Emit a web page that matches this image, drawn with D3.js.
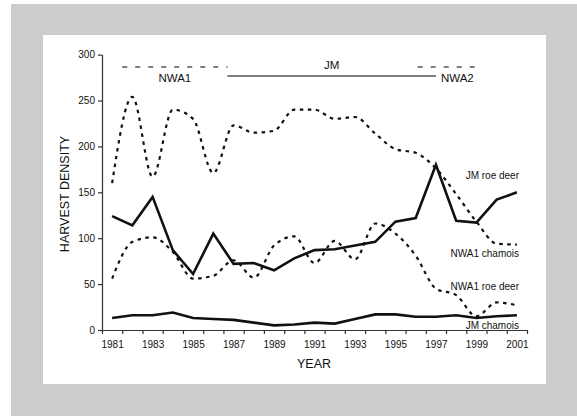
<!DOCTYPE html>
<html lang="en">
<head>
<meta charset="utf-8">
<title>Harvest density 1981-2001</title>
<style>
  body { margin: 0; background: #ffffff; }
  svg { display: block; font-family: "Liberation Sans", Arial, sans-serif; }
  .tick text { fill: #111; }
  .label { fill: #111; font-size: 10px; }
  .axisTitle { fill: #111; font-size: 12.5px; }
  .period { fill: #111; font-size: 11.5px; }
</style>
</head>
<body>
<div id="chart"></div>
<script src="https://cdn.jsdelivr.net/npm/d3@7"></script>
<script>

var years = d3.range(1981, 2002);
var yTicks = [0, 50, 100, 150, 200, 250, 300];
var yearLabels = [1981, 1983, 1985, 1987, 1989, 1991, 1993, 1995, 1997, 1999, 2001];

// NWA1 chamois (upper dashed)
var nwa1Chamois = [160, 254, 167, 240, 230, 171, 223, 215, 217, 240, 240, 230, 232, 214, 197, 193, 176, 148, 118, 94, 93];
// JM roe deer (upper solid)
var jmRoeDeer = [124, 114, 145, 87, 61, 105, 72, 73, 65, 78, 87, 88, 92, 96, 118, 122, 180, 119, 117, 142, 150];
// NWA1 roe deer (lower dashed)
var nwa1RoeDeer = [56, 96, 101, 85, 56, 59, 76, 57, 92, 102, 73, 97, 77, 116, 105, 81, 45, 38, 15, 30, 27];
// JM chamois (lower solid)
var jmChamois = [13, 16, 16, 19, 13, 12, 11, 8, 5, 6, 8, 7, 12, 17, 17, 14.5, 14.5, 16, 13, 15, 16];

// management periods along the top
var periodNames = ["NWA1", "JM", "NWA2"];
var periodStart = [1981.5, 1986.7, 1996.1];
var periodEnd = [1986.7, 1997.0, 1999.1];

var W = 577, H = 416;

var svg = d3.select("#chart").append("svg")
    .attr("width", W)
    .attr("height", H);

svg.append("rect").attr("x", 11).attr("y", 4).attr("width", W - 11).attr("height", H - 4).attr("fill", "#cccccc");
svg.append("rect").attr("x", 43).attr("y", 35).attr("width", 503).attr("height", 349).attr("fill", "#ffffff");

var x = d3.scaleLinear().domain([1980.5, 2001.5]).range([102, 527]);
var y = d3.scaleLinear().domain([0, 300]).range([330, 54.6]);

// x axis: ticks between years, labels every other year
svg.append("g")
    .attr("transform", "translate(0,330)")
    .call(d3.axisBottom(x)
        .tickValues(d3.range(1980.5, 2002, 1))
        .tickSize(4)
        .tickSizeOuter(0)
        .tickFormat(""))
    .call(function(g) {
        g.selectAll("line, path").attr("stroke", "#333").attr("stroke-width", 1.2);
    });

svg.append("g")
    .attr("transform", "translate(0,330)")
    .call(d3.axisBottom(x).tickValues(yearLabels).tickSize(0).tickPadding(11).tickFormat(d3.format("d")))
    .call(function(g) {
        g.select(".domain").remove();
        g.selectAll("text").style("font-size", "10px").style("font-family", "Liberation Sans, Arial, sans-serif");
    });

// y axis
svg.append("g")
    .attr("transform", "translate(102,0)")
    .call(d3.axisLeft(y).tickValues(yTicks).tickSize(4).tickSizeOuter(0).tickPadding(3))
    .call(function(g) {
        g.selectAll("line, path").attr("stroke", "#333").attr("stroke-width", 1.2);
        g.selectAll("text").style("font-size", "10px").style("font-family", "Liberation Sans, Arial, sans-serif");
    });

svg.append("text")
    .attr("class", "axisTitle")
    .attr("text-anchor", "middle")
    .attr("transform", "translate(69,194) rotate(-90)")
    .text("HARVEST DENSITY");

svg.append("text")
    .attr("class", "axisTitle")
    .attr("text-anchor", "middle")
    .attr("x", 314)
    .attr("y", 368)
    .text("YEAR");

// series
var straight = d3.line()
    .x(function(d, i) { return x(years[i]); })
    .y(function(d) { return y(d); });

var smooth = d3.line()
    .x(function(d, i) { return x(years[i]); })
    .y(function(d) { return y(d); })
    .curve(d3.curveMonotoneX);

var series = [
    {values: nwa1Chamois, dashed: true},
    {values: nwa1RoeDeer, dashed: true},
    {values: jmRoeDeer, dashed: false},
    {values: jmChamois, dashed: false}
];

series.forEach(function(s) {
    svg.append("path")
        .datum(s.values)
        .attr("fill", "none")
        .attr("stroke", "#111")
        .attr("stroke-width", s.dashed ? 2.2 : 2.6)
        .attr("stroke-dasharray", s.dashed ? "3.5,4.5" : null)
        .attr("stroke-linejoin", "miter")
        .attr("d", s.dashed ? smooth(s.values) : straight(s.values));
});

// series labels
var labelText = ["JM roe deer", "NWA1 chamois", "NWA1 roe deer", "JM chamois"];
var labelY = [179, 257, 290, 328.5];
labelText.forEach(function(t, i) {
    svg.append("text")
        .attr("class", "label")
        .attr("text-anchor", "end")
        .attr("x", 519)
        .attr("y", labelY[i])
        .text(t);
});

// management periods
periodNames.forEach(function(p, i) {
    var solid = p === "JM";
    var ly = solid ? 76 : 67;
    svg.append("line")
        .attr("x1", x(periodStart[i]))
        .attr("x2", x(periodEnd[i]))
        .attr("y1", ly)
        .attr("y2", ly)
        .attr("stroke", "#555")
        .attr("stroke-width", 1.4)
        .attr("stroke-dasharray", solid ? null : "5,8");
});

svg.append("text").attr("class", "period").attr("text-anchor", "middle")
    .attr("x", (x(periodStart[0]) + x(periodEnd[0])) / 2).attr("y", 82).text(periodNames[0]);
svg.append("text").attr("class", "period").attr("text-anchor", "middle")
    .attr("x", (x(periodStart[1]) + x(periodEnd[1])) / 2).attr("y", 68.5).text(periodNames[1]);
svg.append("text").attr("class", "period").attr("text-anchor", "start")
    .attr("x", x(periodEnd[1]) + 5).attr("y", 82).text(periodNames[2]);

</script>
</body>
</html>
